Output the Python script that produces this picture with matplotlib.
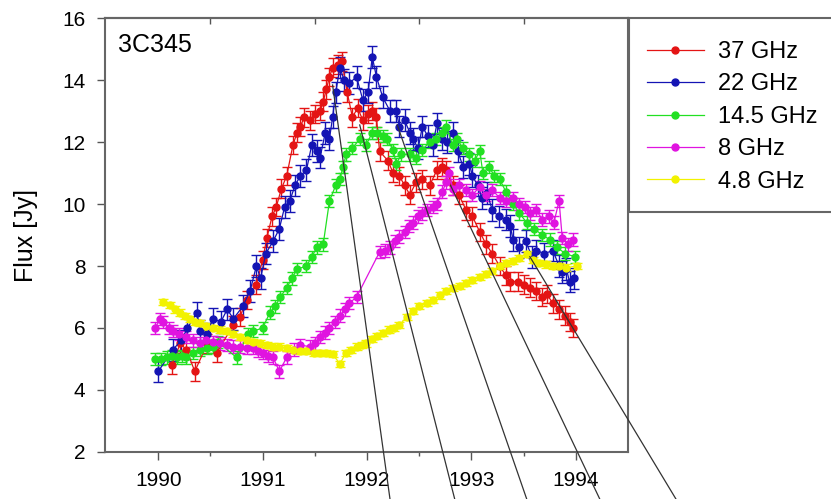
import numpy as np
import matplotlib
matplotlib.use('Agg')
import matplotlib.pyplot as plt
from matplotlib.patches import Rectangle
from matplotlib.lines import Line2D

plt.rcParams['font.family'] = ['Liberation Sans', 'DejaVu Sans']

# 37 GHz
t_37 = [1990.13, 1990.21, 1990.27, 1990.35, 1990.47, 1990.56, 1990.72, 1990.78, 1990.85, 1990.94,
        1991.00, 1991.04, 1991.09, 1991.13, 1991.18, 1991.23, 1991.29, 1991.33, 1991.36, 1991.40,
        1991.45, 1991.50, 1991.55, 1991.58, 1991.61, 1991.64, 1991.67, 1991.72, 1991.76, 1991.81,
        1991.86, 1991.91, 1991.96, 1992.01, 1992.05, 1992.09, 1992.12, 1992.20, 1992.25, 1992.31,
        1992.36, 1992.41, 1992.47, 1992.53, 1992.60, 1992.67, 1992.72, 1992.76, 1992.82, 1992.88,
        1992.95, 1993.01, 1993.08, 1993.14, 1993.20, 1993.27, 1993.33, 1993.37, 1993.45, 1993.50,
        1993.56, 1993.62, 1993.68, 1993.72, 1993.78, 1993.84, 1993.90, 1993.94, 1993.97]
f_37 = [4.8, 5.5, 5.3, 4.6, 5.5, 5.2, 6.1, 6.35, 6.9, 7.4,
        8.2, 8.9, 9.6, 9.9, 10.5, 10.9, 11.9, 12.3, 12.5, 12.8,
        12.7, 12.9, 13.0, 13.3, 13.7, 14.1, 14.4, 14.5, 14.6, 13.6,
        12.8, 13.1, 12.7, 12.9, 13.0, 12.8, 11.7, 11.4, 11.0, 10.9,
        10.6, 10.3, 10.7, 10.8, 10.6, 11.1, 11.2, 11.1, 10.6, 10.3,
        9.8, 9.6, 9.1, 8.7, 8.4, 8.0, 7.7, 7.5, 7.5, 7.4,
        7.3, 7.2, 7.0, 7.1, 6.8, 6.6, 6.4, 6.2, 6.0]

# 22 GHz
t_22 = [1990.00, 1990.14, 1990.22, 1990.28, 1990.37, 1990.40, 1990.47, 1990.52, 1990.60, 1990.66,
        1990.72, 1990.81, 1990.88, 1990.94, 1990.98, 1991.03, 1991.10, 1991.16, 1991.21, 1991.26,
        1991.31, 1991.36, 1991.42, 1991.47, 1991.52, 1991.55, 1991.60, 1991.64, 1991.67, 1991.70,
        1991.74, 1991.78, 1991.83, 1991.90, 1991.96, 1992.01, 1992.05, 1992.09, 1992.15, 1992.22,
        1992.28, 1992.31, 1992.36, 1992.41, 1992.44, 1992.49, 1992.53, 1992.58, 1992.63, 1992.67,
        1992.72, 1992.77, 1992.82, 1992.87, 1992.92, 1992.98, 1993.01, 1993.06, 1993.10, 1993.15,
        1993.20, 1993.26, 1993.33, 1993.37, 1993.40, 1993.46, 1993.52, 1993.58, 1993.62, 1993.70,
        1993.78, 1993.84, 1993.87, 1993.91, 1993.94, 1993.98]
f_22 = [4.6, 5.3, 5.6, 6.0, 6.5, 5.9, 5.8, 6.3, 6.2, 6.6,
        6.3, 6.7, 7.2, 8.0, 7.6, 8.4, 8.8, 9.2, 9.9, 10.1,
        10.6, 10.9, 11.1, 11.9, 11.7, 11.5, 12.3, 12.1, 12.8, 13.6,
        14.4, 14.0, 13.9, 14.1, 13.35, 13.6, 14.75, 14.1, 13.45, 13.0,
        13.0, 12.5, 12.7, 12.3, 12.1, 11.8, 12.5, 12.2, 11.9, 12.6,
        12.1, 12.0, 12.3, 11.7, 11.2, 11.3, 10.9, 10.6, 10.2, 10.35,
        9.8, 9.6, 9.5, 9.3, 8.85, 8.6, 8.8, 8.3, 8.5, 8.4,
        8.5, 8.0, 7.8, 7.9, 7.5, 7.6]

# 14.5 GHz
t_14 = [1989.97, 1990.03, 1990.08, 1990.13, 1990.18, 1990.23, 1990.27, 1990.33, 1990.40, 1990.47,
        1990.52, 1990.57, 1990.75, 1990.86, 1990.91, 1991.00, 1991.07, 1991.12, 1991.17, 1991.23,
        1991.28, 1991.33, 1991.42, 1991.47, 1991.52, 1991.58, 1991.64, 1991.70, 1991.74, 1991.77,
        1991.80, 1991.86, 1991.93, 1991.99, 1992.05, 1992.10, 1992.15, 1992.19, 1992.25, 1992.28,
        1992.33, 1992.41, 1992.47, 1992.53, 1992.60, 1992.66, 1992.72, 1992.76, 1992.82, 1992.86,
        1992.92, 1992.98, 1993.03, 1993.08, 1993.11, 1993.17, 1993.22, 1993.27, 1993.33, 1993.40,
        1993.46, 1993.53, 1993.60, 1993.68, 1993.75, 1993.82, 1993.90, 1993.99]
f_14 = [5.0, 5.0, 5.05, 5.1, 5.05, 5.1, 5.05, 5.2, 5.3, 5.35,
        5.4, 5.55, 5.05, 5.8, 5.9, 6.0, 6.5, 6.7, 7.0, 7.3,
        7.6, 7.9, 8.0, 8.3, 8.6, 8.7, 10.1, 10.6, 10.8, 11.2,
        11.6, 11.8, 12.1, 11.9, 12.3, 12.3, 12.2, 12.1, 11.75, 11.3,
        11.6, 11.6, 11.5, 11.75, 12.0, 12.1, 12.3, 12.5, 11.9, 12.1,
        11.8, 11.6, 11.4, 11.7, 11.0, 11.2, 10.9, 10.8, 10.4, 10.0,
        9.7, 9.4, 9.2, 9.0, 8.85, 8.6, 8.4, 8.3]

# 8 GHz
t_8 = [1989.97, 1990.02, 1990.05, 1990.10, 1990.14, 1990.20, 1990.27, 1990.33, 1990.40, 1990.46,
       1990.52, 1990.59, 1990.66, 1990.72, 1990.78, 1990.85, 1990.91, 1990.96, 1991.00, 1991.05,
       1991.10, 1991.16, 1991.23, 1991.30, 1991.36, 1991.45, 1991.50, 1991.55, 1991.60, 1991.64,
       1991.69, 1991.74, 1991.79, 1991.83, 1991.90, 1992.12, 1992.17, 1992.22, 1992.27, 1992.31,
       1992.36, 1992.40, 1992.44, 1992.49, 1992.53, 1992.57, 1992.63, 1992.67, 1992.72, 1992.76,
       1992.79, 1992.82, 1992.88, 1992.95, 1993.01, 1993.08, 1993.14, 1993.20, 1993.27, 1993.33,
       1993.40, 1993.46, 1993.51, 1993.56, 1993.62, 1993.68, 1993.74, 1993.79, 1993.84, 1993.87,
       1993.93, 1993.97]
f_8 = [6.0, 6.3, 6.2, 6.0, 5.9, 5.8, 5.7, 5.6, 5.5, 5.6,
       5.55, 5.5, 5.45, 5.4, 5.4, 5.35, 5.35, 5.25, 5.2, 5.1,
       5.05, 4.6, 5.05, 5.3, 5.45, 5.4, 5.5, 5.7, 5.85, 6.0,
       6.2, 6.4, 6.6, 6.8, 7.0, 8.45, 8.5, 8.6, 8.8, 8.95,
       9.1, 9.3, 9.4, 9.6, 9.7, 9.8, 9.9, 10.0, 10.4, 10.7,
       11.0, 10.5, 10.6, 10.45, 10.3, 10.55, 10.3, 10.45, 10.2, 10.1,
       10.2, 10.0, 9.9, 9.7, 9.8, 9.5, 9.6, 9.4, 10.1, 8.9,
       8.7, 8.85]

# 4.8 GHz
t_48 = [1990.05, 1990.11, 1990.16, 1990.21, 1990.26, 1990.30, 1990.35, 1990.40, 1990.46, 1990.52,
        1990.59, 1990.66, 1990.72, 1990.78, 1990.85, 1990.91, 1990.97, 1991.04, 1991.10, 1991.16,
        1991.23, 1991.29, 1991.36, 1991.42, 1991.49, 1991.55, 1991.61, 1991.67, 1991.74, 1991.80,
        1991.85, 1991.90, 1991.95, 1991.99, 1992.05, 1992.10, 1992.15, 1992.21, 1992.26, 1992.31,
        1992.38, 1992.44, 1992.50, 1992.57, 1992.63, 1992.70, 1992.76, 1992.82, 1992.89, 1992.95,
        1993.01, 1993.08, 1993.14, 1993.20, 1993.27, 1993.33, 1993.40, 1993.46, 1993.53, 1993.59,
        1993.65, 1993.71, 1993.78, 1993.84, 1993.91, 1994.01]
f_48 = [6.85, 6.75, 6.6, 6.5, 6.4, 6.3, 6.2, 6.15, 6.05, 6.0,
        5.95, 5.9, 5.8, 5.7, 5.6, 5.55, 5.5, 5.45, 5.4, 5.4,
        5.35, 5.3, 5.25, 5.25, 5.2, 5.2, 5.2, 5.15, 4.85, 5.2,
        5.3, 5.4, 5.45, 5.5, 5.65, 5.75, 5.85, 5.95, 6.0, 6.1,
        6.35, 6.55, 6.7, 6.8, 6.9, 7.05, 7.2, 7.3, 7.35, 7.45,
        7.55, 7.65, 7.75, 7.85, 8.0, 8.1, 8.15, 8.25, 8.4, 8.2,
        8.1, 8.05, 8.0, 8.0, 7.95, 8.0]

# typical flux error per band [Jy]
err_37 = 0.3
err_22 = 0.35
err_14 = 0.2
err_8 = 0.2
err_48 = 0.1

labels = ['37 GHz', '22 GHz', '14.5 GHz', '8 GHz', '4.8 GHz']

# black guide lines, from each peak down below the plot
line_x0 = [1991.67, 1991.93, 1992.29, 1992.80, 1993.56]
line_y0 = [13.84, 12.55, 12.55, 10.6, 8.3]
line_x1 = [1992.22, 1992.84, 1993.53, 1994.23, 1994.96]
line_y1 = [0.48, 0.48, 0.48, 0.48, 0.48]

series = [(t_37, f_37, err_37, '#e41414'),
          (t_22, f_22, err_22, '#1414b4'),
          (t_14, f_14, err_14, '#22e022'),
          (t_8, f_8, err_8, '#e014e0'),
          (t_48, f_48, err_48, '#f2f200')]

fig = plt.figure(figsize=(8.31, 4.99), dpi=100)
ax = fig.add_axes([0.1264, 0.0942, 0.6293, 0.8697])

handles = []
for (t, f, e, c), lab in zip(series, labels):
    ax.errorbar(t, f, yerr=e, fmt='o-', color=c, ms=5, lw=0.9,
                elinewidth=1.0, capsize=3.5, capthick=1.0)
    handles.append(Line2D([], [], color=c, marker='o', ms=5, lw=0.9))

for x0, y0, x1, y1 in zip(line_x0, line_y0, line_x1, line_y1):
    ax.plot([x0, x1], [y0, y1], color='#333333', lw=0.9, clip_on=False, zorder=10)

ax.set_xlim(1989.49, 1994.5)
ax.set_ylim(2, 16)
ax.set_xticks([1990, 1991, 1992, 1993, 1994])
ax.set_xticks([1990.5, 1991.5, 1992.5, 1993.5], minor=True)
ax.set_yticks(np.arange(2, 17, 2))
ax.set_xticklabels(['1990', '1991', '1992', '1993', '1994'])
ax.tick_params(axis='both', which='major', labelsize=15, length=6, width=1,
               color='#555555', pad=8)
ax.tick_params(axis='x', which='minor', length=3, width=1, color='#555555')

# half-year ticks on the top edge point inwards
top = ax.secondary_xaxis('top')
top.set_xticks([1990.5, 1991.5, 1992.5, 1993.5])
top.tick_params(direction='in', length=4, width=1, color='#555555', labeltop=False)
top.spines['top'].set_color('#666666')
top.spines['top'].set_linewidth(1.5)

ax.set_ylabel('Flux [Jy]', fontsize=18)
ax.yaxis.set_label_coords(-0.128, 0.5)
for sp in ax.spines.values():
    sp.set_color('#666666')
    sp.set_linewidth(1.5)

ax.text(0.025, 0.965, '3C345', transform=ax.transAxes, fontsize=18,
        ha='left', va='top')

# legend sits in a box to the right, running off the figure edge
fig.add_artist(Rectangle((629 / 831, 1 - 212 / 499), 0.3, 194 / 499,
                         transform=fig.transFigure, fill=False,
                         edgecolor='#666666', lw=1.5, clip_on=False))
fig.legend(handles, labels, loc='upper left', bbox_to_anchor=(647 / 831, 1 - 41 / 499),
           bbox_transform=fig.transFigure, frameon=False, fontsize=17,
           handlelength=2.4, handletextpad=0.6, labelspacing=0.44,
           borderpad=0, borderaxespad=0)

plt.savefig('out.png', dpi=100)
